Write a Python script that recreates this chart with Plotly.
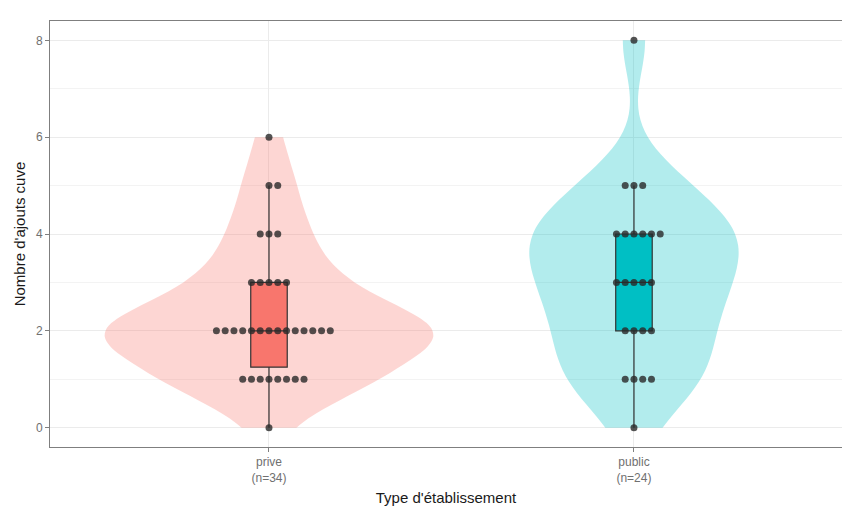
import numpy as np
import plotly.graph_objects as go

# ---- data ----
categories = ["prive", "public"]
tick_labels = ["prive<br>(n=34)", "public<br>(n=24)"]
prive_levels = [0, 1, 2, 3, 4, 5, 6]
prive_counts = [1, 8, 14, 5, 3, 2, 1]
public_levels = [0, 1, 2, 3, 4, 5, 8]
public_counts = [1, 4, 4, 5, 6, 3, 1]
violin_colors = ["rgba(248,118,109,0.3)", "rgba(0,191,196,0.3)"]
box_colors = ["#F8766D", "#00BFC4"]

groups = [
    np.repeat(prive_levels, prive_counts).astype(float),
    np.repeat(public_levels, public_counts).astype(float),
]


def nrd0(x):
    sd = np.std(x, ddof=1)
    iqr = np.percentile(x, 75) - np.percentile(x, 25)
    lo = min(sd, iqr / 1.34)
    return 0.9 * lo * len(x) ** (-0.2)


def max_density(x, bw):
    grid = np.linspace(x.min(), x.max(), 512)
    d = np.exp(-0.5 * ((grid[:, None] - x[None, :]) / bw) ** 2).sum(axis=1)
    return (d / (len(x) * bw * np.sqrt(2 * np.pi))).max()


bws = [nrd0(v) for v in groups]
peaks = [max_density(v, b) for v, b in zip(groups, bws)]
vwidths = [0.9 * p / max(peaks) for p in peaks]  # ggplot scale="area"

fig = go.Figure()

# violins
for i, vals in enumerate(groups):
    fig.add_trace(go.Violin(
        x=[i] * len(vals), y=vals,
        fillcolor=violin_colors[i], line=dict(width=0, color="rgba(0,0,0,0)"),
        spanmode="hard", bandwidth=bws[i], width=vwidths[i],
        scalegroup=categories[i], scalemode="width",
        points=False, box_visible=False, meanline_visible=False,
        showlegend=False, hoverinfo="skip",
    ))

# boxes (R type-7 quantiles)
for i, vals in enumerate(groups):
    q1, med, q3 = np.percentile(vals, [25, 50, 75])
    iqr = q3 - q1
    lf = vals[vals >= q1 - 1.5 * iqr].min()
    uf = vals[vals <= q3 + 1.5 * iqr].max()
    fig.add_trace(go.Box(
        x=[i], q1=[q1], median=[med], q3=[q3], lowerfence=[lf], upperfence=[uf],
        fillcolor=box_colors[i], line=dict(color="#333333", width=1.2),
        width=0.1, whiskerwidth=0, boxpoints=False, showlegend=False,
    ))

# dot stacks
dot_step = 0.024
for i, vals in enumerate(groups):
    xs, ys = [], []
    levels, counts = np.unique(vals, return_counts=True)
    for v, k in zip(levels, counts):
        start = -((k - 1) // 2)
        for j in range(k):
            xs.append(i + (start + j) * dot_step)
            ys.append(v)
    fig.add_trace(go.Scatter(
        x=xs, y=ys, mode="markers",
        marker=dict(size=7, color="rgba(40,40,40,0.8)", line=dict(width=0)),
        showlegend=False, hoverinfo="skip",
    ))

fig.update_layout(
    width=842, height=507,
    margin=dict(l=50, r=0, t=21, b=60),
    plot_bgcolor="white", paper_bgcolor="white",
    font=dict(family="Liberation Sans, Arial, sans-serif", color="#4D4D4D"),
)
fig.update_xaxes(
    automargin=False,
    range=[-0.6, 1.57], tickmode="array", tickvals=[0, 1], ticktext=tick_labels,
    showgrid=True, gridcolor="#EBEBEB", zeroline=False,
    showline=True, linecolor="#7F7F7F", linewidth=1, mirror=True,
    ticks="outside", ticklen=4, tickcolor="#7F7F7F",
    tickfont=dict(size=12, color="#707070"),
    title=dict(text="Type d'établissement", font=dict(size=15, color="#1a1a1a"), standoff=8),
)
fig.update_yaxes(
    automargin=False,
    range=[-0.4, 8.4], tickmode="array", tickvals=[0, 2, 4, 6, 8],
    showgrid=True, gridcolor="#EBEBEB", zeroline=False,
    minor=dict(tickvals=[1, 3, 5, 7], showgrid=True, gridcolor="#F3F3F3", ticks=""),
    showline=True, linecolor="#7F7F7F", linewidth=1, mirror=True,
    ticks="outside", ticklen=4, tickcolor="#7F7F7F",
    tickfont=dict(size=12, color="#707070"),
    title=dict(text="Nombre d'ajouts cuve", font=dict(size=15, color="#1a1a1a"), standoff=6),
)

fig.write_html(
    "out.html",
    config={"displayModeBar": False},
    post_script="document.body.style.margin='0';document.body.style.overflow='hidden';",
)
